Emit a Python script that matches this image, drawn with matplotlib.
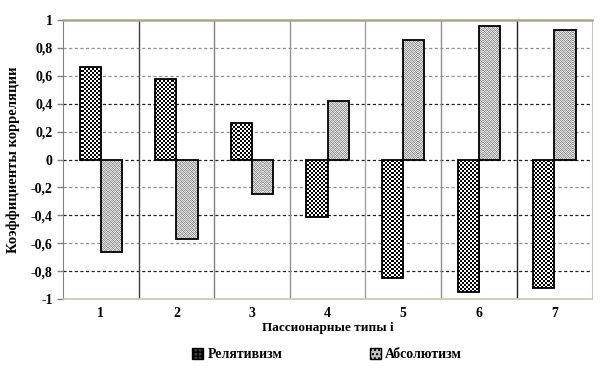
import numpy as np
import matplotlib
matplotlib.use("Agg")
import matplotlib.pyplot as plt
from matplotlib.patches import Patch
from matplotlib.ticker import FuncFormatter

categories = ["1", "2", "3", "4", "5", "6", "7"]
relativism = [0.66, 0.58, 0.26, -0.41, -0.85, -0.95, -0.92]
absolutism = [-0.66, -0.57, -0.25, 0.42, 0.86, 0.96, 0.93]
series_names = ["Релятивизм", "Абсолютизм"]
yticks = [-1, -0.8, -0.6, -0.4, -0.2, 0, 0.2, 0.4, 0.6, 0.8, 1]

plt.rcParams['font.family'] = ['Liberation Serif', 'DejaVu Serif']
plt.rcParams['font.weight'] = 'bold'

fig = plt.figure(figsize=(6.0, 3.74), dpi=100)
ax = fig.add_axes([0.105, 0.2005, 0.882, 0.746])

x = np.arange(len(categories))
w = 0.28
ax.set_xlim(-0.5, len(categories) - 0.5)
ax.set_ylim(-1, 1)

# horizontal dashed grid
dark = {0.4, 0.0, -0.4, -0.8}
for t in yticks:
    if abs(t) == 1:
        continue
    c = '#202020' if round(t, 1) in dark else '#909090'
    ax.axhline(t, color=c, lw=0.9, ls=(0, (2.5, 2.0)), zorder=1)

# vertical category separators
vcols = ['#404040', '#808080', '#909090', '#a0a0a0', '#909090', '#202020']
for i, c in enumerate(vcols):
    ax.axvline(i + 0.5, color=c, lw=1.0, zorder=1)

b1 = ax.bar(x - w / 2, relativism, w, facecolor='none', edgecolor='black', lw=1.3, zorder=3)
b2 = ax.bar(x + w / 2, absolutism, w, facecolor='none', edgecolor='black', lw=1.3, zorder=3)

# textures
H, W = 279, 529
yy, xx = np.mgrid[0:H, 0:W]
checker = (((yy // 2) + (xx // 2)) % 2).astype(float)
pat = np.array([[0.85, 0.62, 0.92, 0.70],
                [0.72, 0.95, 0.58, 0.88],
                [0.93, 0.66, 0.86, 0.60],
                [0.60, 0.88, 0.74, 0.96]])
stip = pat[yy % 4, xx % 4] * 0.95
ext = (-0.5, len(categories) - 0.5, -1, 1)
for bars, tex in ((b1, checker), (b2, stip)):
    for p in bars:
        im = ax.imshow(tex, cmap='gray', vmin=0, vmax=1, extent=ext, origin='upper',
                       interpolation='nearest', aspect='auto', zorder=2)
        im.set_clip_path(p)

ax.set_aspect('auto')
ax.set_xlim(-0.5, len(categories) - 0.5)
ax.set_ylim(-1, 1)

ax.spines['top'].set_color('#a8a888')
ax.spines['top'].set_linewidth(1.8)
ax.spines['bottom'].set_color('#c8c8b0')
ax.spines['bottom'].set_linewidth(1.2)
ax.spines['right'].set_color('#c8c8b0')
ax.spines['left'].set_color('#808080')

ax.set_xticks(x)
ax.set_xticklabels(categories, fontsize=10, fontweight='bold')
ax.tick_params(axis='x', length=0, pad=6)
ax.set_yticks(yticks)
ax.yaxis.set_major_formatter(FuncFormatter(lambda v, p: ('%g' % round(v, 1)).replace('.', ',')))
ax.tick_params(axis='y', labelsize=10, length=4, color='#808080', width=1)
for lab in ax.get_yticklabels():
    lab.set_fontweight('bold')

ax.set_xlabel("Пассионарные типы i", fontsize=9.5, fontweight='bold', labelpad=1)
ax.set_ylabel("Коэффициенты корреляции", fontsize=10.5, fontweight='bold', labelpad=8)

handles = [Patch(facecolor='#404040', edgecolor='black', hatch='++++', label=series_names[0]),
           Patch(facecolor='#c0c0c0', edgecolor='black', hatch='....', label=series_names[1])]
leg = fig.legend(handles=handles, loc='center', bbox_to_anchor=(0.545, 0.052), ncol=2,
                 frameon=False, fontsize=10, handlelength=0.8, handleheight=0.8,
                 handletextpad=0.3, columnspacing=6.3)
for t in leg.get_texts():
    t.set_fontweight('bold')

fig.savefig("out.png", dpi=100)
